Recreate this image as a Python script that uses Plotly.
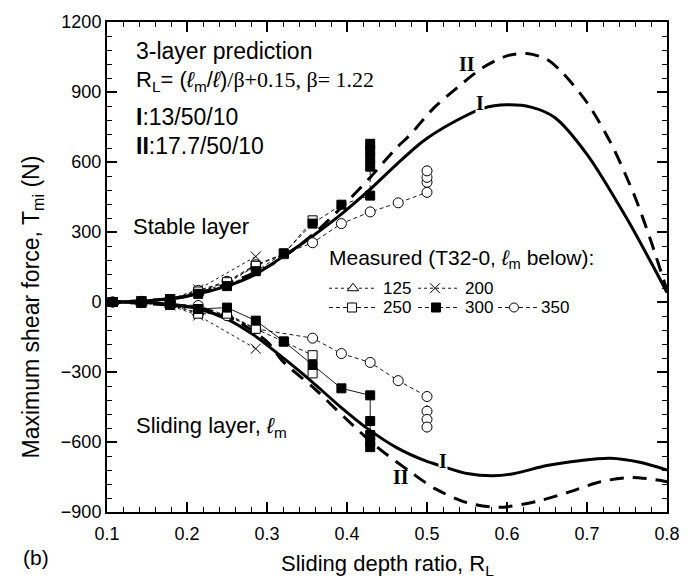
import plotly.graph_objects as go

# ---- measured data (T32-0), l_m = 125, 200, 250, 300, 350 mm ----
r125 = [0.107, 0.143, 0.179, 0.214, 0.250, 0.286]
up125 = [0, 3, 10, 40, 80, 155]
lo125 = [0, -3, -12, -45, -55, -115]

r200 = [0.107, 0.143, 0.179, 0.214, 0.286]
up200 = [0, 4, 12, 54, 195]
lo200 = [0, -4, -15, -58, -200]

r250_up = [0.107, 0.143, 0.179, 0.214, 0.250, 0.286, 0.321, 0.357]
up250 = [0, 3, 10, 45, 85, 155, 205, 350]
r250_lo = [0.107, 0.143, 0.179, 0.214, 0.250, 0.286, 0.321, 0.357, 0.357]
lo250 = [0, -3, -12, -50, -50, -115, -170, -228, -306]

r300 = [0.107, 0.143, 0.179, 0.214, 0.250, 0.286, 0.321, 0.357, 0.393,
        0.429, 0.429, 0.429, 0.429, 0.429]
up300 = [0, 3, 12, 35, 68, 132, 209, 336, 417, 456, 580, 615, 650, 678]
r300_lo = [0.107, 0.143, 0.179, 0.214, 0.250, 0.286, 0.321, 0.357, 0.393,
           0.429, 0.429, 0.429, 0.429, 0.429]
lo300 = [0, -3, -12, -30, -24, -80, -169, -270, -370, -400, -510, -570, -598, -622]

r350 = [0.107, 0.143, 0.179, 0.214, 0.250, 0.286, 0.357, 0.393, 0.429,
        0.464, 0.500, 0.500, 0.500, 0.500]
up350 = [0, 3, 10, 50, 89, 160, 254, 336, 386, 425, 470, 513, 534, 562]
lo350 = [0, -3, -10, -15, -59, -115, -155, -221, -259, -337, -405, -468, -503, -536]

# ---- 3-layer predictions ----
# I: 13/50/10
rI_up = [0.10, 0.15, 0.20, 0.25, 0.285, 0.32, 0.356, 0.391, 0.427, 0.462, 0.495,
         0.53, 0.57, 0.60, 0.63, 0.66, 0.70, 0.75, 0.78, 0.80]
tI_up = [0, 5, 25, 68, 117, 195, 280, 371, 477, 590, 689, 765, 830, 845, 835,
         790, 633, 357, 170, 40]
rI_lo = [0.10, 0.15, 0.18, 0.212, 0.25, 0.284, 0.316, 0.356, 0.391, 0.427, 0.462,
         0.4975, 0.52, 0.55, 0.583, 0.608, 0.65, 0.691, 0.729, 0.766, 0.80]
tI_lo = [0, -3, -10, -27, -73, -143, -228, -341, -447, -546, -624, -680, -705,
         -735, -745, -736, -701, -680, -670, -687, -720]
# II: 17.7/50/10
rII_up = [0.10, 0.20, 0.30, 0.356, 0.40, 0.429, 0.462, 0.479, 0.508, 0.54, 0.57,
          0.60, 0.625, 0.65, 0.67, 0.70, 0.73, 0.76, 0.78, 0.80]
tII_up = [0, 25, 150, 285, 430, 534, 661, 717, 830, 925, 1005, 1055, 1065, 1040,
          980, 855, 680, 450, 260, 50]
rII_lo = [0.10, 0.20, 0.25, 0.30, 0.32, 0.359, 0.397, 0.437, 0.48, 0.51, 0.55,
          0.59, 0.637, 0.677, 0.717, 0.757, 0.80]
tII_lo = [0, -20, -60, -170, -255, -370, -495, -620, -730, -800, -860, -880,
          -855, -815, -770, -752, -770]

# ---- legend entries ----
leg_labels = ["125", "200", "250", "300", "350"]

FONT = "Liberation Sans, Arial, sans-serif"
SERIF = "Liberation Serif, Times New Roman, serif"

# plot-area pixel frame (used to place text in paper coords)
L, R_, T_, B = 107, 667, 16, 512


def px(x):
    return (x - L) / (R_ - L)


def py(y):
    return (B - y) / (B - T_)


fig = go.Figure()

open_mk = dict(color="white", line=dict(color="black", width=1))
solid_mk = dict(color="black", line=dict(color="black", width=1))
x_mk = dict(color="black", line=dict(color="black", width=1))


def meas(x, y, symbol, dash, mk, size=9, width=0.9):
    fig.add_trace(go.Scatter(
        x=x, y=y, mode="lines+markers",
        line=dict(color="black", width=width, dash=dash),
        marker=dict(symbol=symbol, size=size, **mk),
        showlegend=False, hoverinfo="skip"))


# prediction curves
for xs, ys, dash in [(rI_up, tI_up, "solid"), (rI_lo, tI_lo, "solid"),
                     (rII_up, tII_up, "14px,9px"), (rII_lo, tII_lo, "14px,9px")]:
    fig.add_trace(go.Scatter(x=xs, y=ys, mode="lines",
                             line=dict(color="black", width=3, dash=dash,
                                       shape="spline", smoothing=0.8),
                             showlegend=False, hoverinfo="skip"))

# measured series
meas(r350, up350, "circle", "4px,3px", open_mk, size=10)
meas(r350, lo350, "circle", "4px,3px", open_mk, size=10)
meas(r125, up125, "triangle-up", "dot", open_mk, size=10)
meas(r125, lo125, "triangle-up", "dot", open_mk, size=10)
meas(r200, up200, "x-thin", "dot", x_mk, size=10)
meas(r200, lo200, "x-thin", "dot", x_mk, size=10)
meas(r250_up, up250, "square", "4px,3px", open_mk)
meas(r250_lo, lo250, "square", "4px,3px", open_mk)
meas(r300, up300, "square", "4px,3px", solid_mk)
meas(r300_lo, lo300, "square", "solid", solid_mk)

# legend samples drawn on an overlay axis in pixel units
ROW1, ROW2 = 285.5, 305
leg_rows = [
    (ROW1, [(329, 377, 353, "triangle-up", "dot", open_mk, 10),
            (418, 460, 435, "x-thin", "dot", x_mk, 10)]),
    (ROW2, [(329, 377, 352, "square", "4px,3px", open_mk, 9),
            (418, 460, 436, "square", "4px,3px", solid_mk, 9),
            (498, 537, 514, "circle", "4px,3px", open_mk, 9)]),
]
for yrow, items in leg_rows:
    for x0, x1, xm, sym, dash, mk, sz in items:
        fig.add_trace(go.Scatter(x=[x0, x1], y=[yrow, yrow], mode="lines",
                                 line=dict(color="black", width=0.9, dash=dash),
                                 xaxis="x2", yaxis="y2", showlegend=False, hoverinfo="skip"))
        fig.add_trace(go.Scatter(x=[xm], y=[yrow], mode="markers",
                                 marker=dict(symbol=sym, size=sz, **mk),
                                 xaxis="x2", yaxis="y2", showlegend=False, hoverinfo="skip"))

leg_text_pos = [(381, ROW1), (463, ROW1), (381, ROW2), (463, ROW2), (539, ROW2)]

ann = []


def text(x, y, s, size=20, xanchor="left", family=FONT, angle=0, ref="paper", bg=None):
    d = dict(text=s, showarrow=False, xanchor=xanchor, yanchor="middle",
             font=dict(family=family, size=size, color="black"), textangle=angle)
    if ref == "paper":
        d.update(x=px(x), y=py(y), xref="paper", yref="paper")
    else:
        d.update(x=x, y=y, xref="x", yref="y")
    if bg:
        d.update(bgcolor=bg, borderpad=0)
    ann.append(d)


for lab, (x, y) in zip(leg_labels, leg_text_pos):
    text(x, y, lab, size=17)
text(327, 256, "Measured (T32-0, <i>ℓ</i><sub>m</sub> below):", size=21)

text(134, 45, "3-layer prediction", size=23)
text(134, 76, "R<sub>L</sub>= (<i>ℓ</i><sub>m</sub>/<i>ℓ</i>)"
     f"<span style=\"font-family:{SERIF}\">/β+0.15, β= 1.22</span>", size=22)
text(134, 112, "<b>I</b>:13/50/10", size=23)
text(134, 142, "<b>II</b>:17.7/50/10", size=23)
text(251, 223, "Stable layer", size=22, xanchor="right")
text(289, 426, "Sliding layer, <i>ℓ</i><sub>m</sub>", size=22, xanchor="right")

# curve labels
text(0.55, 1021, "<b>II</b>", size=20, xanchor="center", family=SERIF, ref="data")
text(0.566, 851, "<b>I</b>", size=20, xanchor="center", family=SERIF, ref="data", bg="white")
text(0.52, -682, "<b>I</b>", size=20, xanchor="center", family=SERIF, ref="data", bg="white")
text(0.468, -752, "<b>II</b>", size=20, xanchor="center", family=SERIF, ref="data")

# axis titles and panel tag
text(387, 566, "Sliding depth ratio, R<sub>L</sub>", size=22, xanchor="center")
text(33, 305, "Maximum shear force, T<sub>mi</sub> (N)", size=23, xanchor="center", angle=-90)
text(36, 558, "(b)", size=21, xanchor="center")

axis_common = dict(showline=True, linecolor="black", linewidth=2, mirror="allticks",
                   ticks="inside", ticklen=10, tickwidth=1.5, tickcolor="black",
                   showgrid=False, zeroline=False,
                   tickfont=dict(family=FONT, size=18, color="black"))

fig.update_layout(
    width=696, height=581,
    margin=dict(l=L, r=696 - R_, t=T_, b=581 - B),
    paper_bgcolor="white", plot_bgcolor="white",
    showlegend=False,
    xaxis=dict(range=[0.1, 0.8], dtick=0.1, tickformat=".1f", ticklabelstandoff=4,
               minor=dict(ticks="inside", ticklen=5, dtick=0.02, tickcolor="black", tickwidth=1.2),
               **axis_common),
    yaxis=dict(range=[-900, 1200], dtick=300,
               minor=dict(ticks="inside", ticklen=5, dtick=60, tickcolor="black", tickwidth=1.2),
               **axis_common),
    xaxis2=dict(overlaying="x", range=[L, R_], visible=False, fixedrange=True),
    yaxis2=dict(overlaying="y", range=[B, T_], visible=False, fixedrange=True),
    annotations=ann,
)

fig.write_html("out.html")
